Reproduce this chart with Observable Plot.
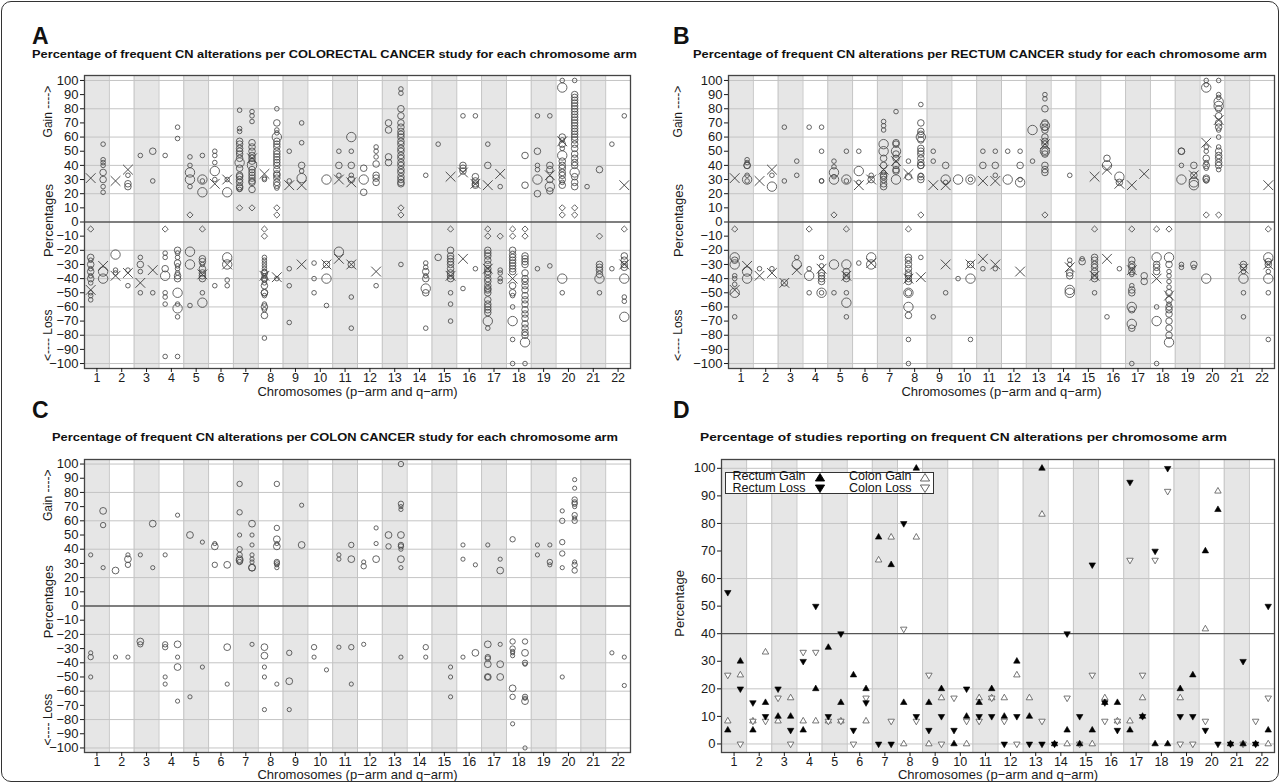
<!DOCTYPE html>
<html><head><meta charset="utf-8">
<script src="https://cdn.jsdelivr.net/npm/d3@7"></script>
<script src="https://cdn.jsdelivr.net/npm/@observablehq/plot@0.6"></script>
<style>
body{margin:0;background:#fff;}
#fig{position:relative;width:1281px;height:784px;overflow:hidden;background:#fff;font-family:Arial,"Liberation Sans",Helvetica,sans-serif;color:#111;}
#border{position:absolute;left:1px;top:1px;width:1278px;height:781px;border:1.4px solid #333;border-radius:10px;box-sizing:border-box;pointer-events:none;}
.letter{position:absolute;font-weight:bold;font-size:23px;line-height:1;}
.title{position:absolute;font-weight:bold;font-size:11.5px;line-height:1;white-space:nowrap;transform-origin:0 50%;}
.panel{position:absolute;}
#legend{position:absolute;left:725px;top:471.5px;width:209px;height:22px;border:1.1px solid #333;background:#fff;box-sizing:border-box;}
.lg{position:absolute;font-size:12.5px;line-height:1;white-space:nowrap;}
</style></head>
<body>
<div id="fig">
  <div class="letter" style="left:32px;top:25px">A</div>
  <div class="letter" style="left:673px;top:25px">B</div>
  <div class="letter" style="left:32px;top:399px">C</div>
  <div class="letter" style="left:673px;top:399px">D</div>
  <div class="title" data-w="605" style="left:32px;top:49.3px">Percentage of frequent CN alterations per COLORECTAL CANCER study for each chromosome arm</div>
  <div class="title" data-w="574" style="left:693px;top:49.3px">Percentage of frequent CN alterations per RECTUM CANCER study for each chromosome arm</div>
  <div class="title" data-w="566" style="left:52px;top:432px">Percentage of frequent CN alterations per COLON CANCER study for each chromosome arm</div>
  <div class="title" data-w="527" style="left:700px;top:432px">Percentage of studies reporting on frequent CN alterations per chromosome arm</div>
  <div class="panel" id="pA" style="left:0px;top:70px"></div>
  <div class="panel" id="pB" style="left:640px;top:70px"></div>
  <div class="panel" id="pC" style="left:0px;top:454px"></div>
  <div class="panel" id="pD" style="left:640px;top:454px"></div>
  <div id="border"></div>
</div>
<script>
// ---------- shared axis values ----------
const chromosomes = [1,2,3,4,5,6,7,8,9,10,11,12,13,14,15,16,17,18,19,20,21,22];
const pctTicks = [-100,-90,-80,-70,-60,-50,-40,-30,-20,-10,0,10,20,30,40,50,60,70,80,90,100];
const pctGrid = [-100,-80,-60,-40,-20,20,40,60,80,100];
const studyTicks = [0,10,20,30,40,50,60,70,80,90,100];
const studyGrid = [0,20,60,80,100];
const studyThreshold = [40];

// ---------- Panel A: colorectal cancer studies (arm, values...) ----------
const colorectalSmall = [
["1p",-27,-33,-38,-43,-50,-52,-55],["1q",55,44,42,40,25,21],["2p",-34,-36],["2q",33,-34,-45],
["3p",47,-25,-35,-50],["3q",29,-50],["4p",47,-22,-25,-50,-53,-58,-95],["4q",67,59,-22,-25,-31,-33,-36,-58,-67,-95],
["5p",46,40,25,-59],["5q",47,29,-30,-50],["6p",50,47,42,30,-45],["6q",30,-41,-45],["7p",79,66,64,23],["7q",78,75,71],
["8p",31,30,-25,-27,-29,-31,-33,-35,-38,-41,-43,-52,-58,-62,-82],["8q",80,65,63,24,-40],["9p",50,29,-33,-45,-71],["9q",70,56,36],
["10p",-29,-40,-50],["10q",-59],["11p",50,33],["11q",50,33,-53,-75],["12q",53,50,46,-45],["13q",94,91,-30],
["14q",33,-29,-32,-38,-75],["15p",55],["15q",-50,-58,-70],["16p",75,-47],["16q",75,-33],["17p",55,-75],["17q",25,-34,-36,-40,-42],
["18p",-52,-60,-83,-100],["18q",-100],["19p",75,40,37,-33],["19q",75,-31],["20p",100,58,52,28,-50],["20q",100],
["21p",25],["21q",-50],["22p",55,-33],["22q",75,-53,-56]
];
const colorectalMedium = [
["1p",-25,-30,-35,-40],["1q",35,30],["2q",27,25],["3p",-30],["3q",50],["4p",-33],["4q",-20,-29,-38,-40],
["5q",-26,-28,-33,-36,-38,-40],["7p",57,55,52,50,48,45,38,33,32,30,28,25,24],["7q",56,53,50,47,45,43,37,35,33,31,29,28,23],
["8p",-36,-40,-45,-50,-50,-60,-66],["8q",70,57,55,53,50,48,46,44,42,40,37,34,33,31,28,26],["9q",40],["10q",-30],
["11p",40],["11q",40,30,-30],["12p",38,21],["12q",41,33,31,28],["13p",70,65,46,42],
["13q",80,75,70,67,64,62,60,57,55,52,50,47,45,42,40,37,35,32,30,28,27],["14q",-35,-40,-50],["15p",-25],
["15q",-20,-24,-26,-28,-30,-33,-36,-38,-40],["16p",40,38,36],["16q",32,29,27,26],
["17p",40,-20,-22,-24,-27,-30,-33,-35,-37,-40,-42,-45,-47,-48,-50,-55,-58,-60,-62,-64],
["18p",-20,-23,-25,-27,-29,-31,-33,-35,-45,-50],
["18q",47,26,-24,-26,-28,-30,-36,-40,-42,-45,-48,-52,-55,-58,-62,-65,-68,-72,-75,-78,-80],
["19p",50,20],["19q",40,37,30,22],["20p",60,55,43,40,38,35,33,30,26],
["20q",90,88,86,84,82,80,78,76,74,72,70,68,66,64,62,60,58,55,52,48,45,42,40,32,28,25],
["21q",37,-30,-32,-34,-37],["22q",-24,-27,-30,-32]
];
const colorectalLarge = [
["1q",-35,-40],["2p",-23],["4p",-38],["4q",-50,-61],["5p",35,30,-21,-30],["5q",30,21,-57],["6p",36],["6q",21,-25,-30],
["7p",42],["7q",40],["8q",60],["9q",31],["10q",30,-40],["11p",-21],["11q",60],["12p",30],["14q",-47],["17p",-70],
["18p",-70],["18q",-85],["19p",30],["19q",25],["20p",95,47,-40],["20q",35],["21q",-40],["22q",-40,-67]
];
const colorectalCross = [
["1p",31,-48],["1q",-31],["2p",29,-38],["2q",37,-36],["3p",-43],["3q",-34],["5q",-37],["6p",27],["6q",30,-30],["7q",45],
["8p",34,-38],["8q",-39],["9p",26],["9q",26,-30],["10q",-30],["11p",30,-26],["11q",28,-30],["12q",-35],["15q",32,-38],
["16p",35,-26],["16q",27],["17p",26,-33],["17q",34],["18p",-40],["19q",33],["20p",57],["22q",26,-30]
];
const colorectalDiamond = [
["1p",-5],["4p",-5],["5p",5],["5q",-5],["7p",10],["7q",10],["8p",-5,-10],["8q",10,5],["13q",10,5],["15q",-5],
["17p",-5,-10],["17q",-10],["18p",-5,-10],["18q",-5,-10],["20p",10,5],["20q",10,5],["21q",-10],["22q",-5]
];

// ---------- Panel B: rectum cancer studies ----------
const rectumSmall = [
["1p",-38,-40,-44,-67],["1q",44,42,33,29],["2p",-33],["2q",33,-33],["3p",67,29],["3q",43,33,-25],["4p",67,-33,-50],
["4q",67,50,29,29,-25,-31,-50],["5p",43,39,32,-50],["5q",50,29,-50,-67],["6p",50,28,-29],["6q",33],["7p",71,68,65,35],
["7q",78],["8p",43,-83,-100],["8q",83,33,-25],["9p",50,43,-67],["9q",28,-50],["10p",-40],["10q",30,-83],["11p",50,-33],
["11q",50,33,-33],["12p",50],["12q",50,30],["13p",43],["13q",90,87],["14q",33,-27,-30],["15p",-26],["15q",-50],
["16p",-67],["16q",-33],["17p",-37,-45,-100],["18p",-60,-100],["18q",-35,-38,-42,-46,-58],["19p",40,-30,-32],["19q",-32],
["20p",100,97,53,50,42,38,29],["20q",100,90,88,65,60,53,37],["21q",-35,-50,-67],["22q",-35,-50,-83]
];
const rectumMedium = [
["1p",-27],["1q",40,40],["3p",-43],["4q",-36,-38,-40,-42],["5q",-35,-38,-40],["6q",30],["7p",45,40,33,32,30,27,25],
["7q",56,55,48,45,40,37,36],["8p",32,-25,-27,-30,-33,-36,-38,-40,-42,-50,-66],["8q",70,64,62,58,52,50,48,45,42,40,40,32,30],
["9q",40],["10q",-30],["11p",40],["11q",40],["12q",40],["13q",80,70,67,65,60,57,55,50,48,40,37,35],["14q",-36,-38],
["15p",-28],["15q",-25,-27,-30,-32,-35,-38,-40],["16p",45],["16q",28],["17p",-27,-30,-32,-35,-48,-50,-62,-75],
["17q",-38,-42],["18p",-30,-32,-35],["18q",-30,-50,-55,-60,-62,-65,-70,-75,-80],["19p",50,50],["19q",40,33,-30],
["20p",45,40,31,30],["20q",80,75,70,67,50,47,45,42,40],["21q",-30,-32],["22q",-28,-30]
];
const rectumLarge = [
["1p",-25,-30,-50],["1q",30,-35,-40],["2q",25],["3q",-30],["4p",-38],["4q",-50],["5p",35,30,-30],["5q",30,-30,-57],
["6p",36],["6q",-25,-30],["7p",55,50],["7q",50,30],["8p",-50,-60],["8q",60],["9q",30],["10p",30],["10q",30,-40],
["12p",30],["12q",28],["13p",65],["13q",68,50],["14q",-48,-50],["16p",40],["16q",32],["17p",-60,-72],["18p",-25,-70],
["18q",-25,-85],["19p",30],["19q",28,26],["20p",95,-40],["20q",85,82],["21q",-40],["22q",-25,-40]
];
const rectumCross = [
["1p",31,-48],["1q",-31],["2p",29,-38],["2q",37,-36],["3p",-43],["3q",-34],["4q",-33],["5q",-38],["6p",26],["6q",30,-29],
["7p",37],["7q",43],["8p",34,-40],["8q",-39],["9p",26],["9q",26,-30],["10q",-30],["11p",29,-26],["11q",29,-30],["12q",-35],
["13q",55],["14q",-32],["15q",32,-38],["16p",37,-26],["16q",27],["17p",26,-34],["17q",34],["18p",-40],["18q",-52],
["19q",33],["20p",56],["20q",72],["21q",-33],["22q",26,-30]
];
const rectumDiamond = [
["1p",-5],["4p",-5],["5p",5],["5q",-5],["8p",-5],["8q",5],["13q",5],["15q",-5],["17p",-5],["18p",-5],["18q",-5],
["20p",5],["20q",5],["22q",-5]
];

// ---------- Panel C: colon cancer studies ----------
const colonSmall = [
["1p",36,-33,-50],["1q",27],["2p",-36],["2q",36,-36],["3p",36],["3q",27],["4p",36,-50,-55],["4q",64,-36,-67],["5p",-64],
["5q",45,-43],["6p",44],["6q",-55],["7p",50],["7q",50,43,36,33,31,-27],["8p",-43,-50,-73],["8q",44,29,27,-55],["9p",-73],
["9q",71],["10p",-36],["10q",-45],["11p",36,33,-29],["11q",-55],["12p",31,-27],["12q",55,44],["13q",70,68,40,27,-36],
["14q",-36],["15q",-43,-50,-64],["16p",43,33,-36],["16q",29],["17p",43],["17q",33,-27],["18p",-32,-33,-35,-83],
["18q",-41,-65,-100],["19p",43,36],["19q",43,29],["20p",67,27,-50],["20q",89,83,70,62,31],["22p",-33],["22q",-36,-56]
];
const colonMedium = [
["1p",-36],["1q",57],["2q",29],["3p",-27],["4p",-27,-29],["6p",29],["7p",86,66,40,36,31],["8q",86,55,31,30],["9p",-33],
["10p",-29],["11q",43,-29],["12p",28],["13p",42],["13q",100,72,43,42],["14q",-29],["17p",-36,-37,-50],
["18p",47,-25,-30,-64],["18q",-25,-40,-64],["19q",31],["20p",60,45,37],["20q",75,73,72,64,60,29,25]
];
const colonLarge = [
["1q",67],["2p",25],["2q",33],["3p",-25],["3q",58],["4q",-27,-43],["5p",50],["6p",42],["6q",29,-29],["7p",33,32],
["7q",58,27,27],["8p",-29,-35],["8q",47,42],["9p",-53],["9q",43],["11q",33],["12q",33],["13p",50],["13q",50,33],
["16q",-33],["17p",-27,-41,-50],["17q",25,-41,-50],["18p",-58],["18q",-33,-67]
];

// ---------- Panel D: % of studies reporting per arm ----------
const arms = ["1p","1q","2p","2q","3p","3q","4p","4q","5p","5q","6p","6q","7p","7q","8p","8q","9p","9q","10p","10q","11p","11q",
"12p","12q","13p","13q","14p","14q","15p","15q","16p","16q","17p","17q","18p","18q","19p","19q","20p","20q","21p","21q","22p","22q"];
const rectumGain = [5,30,5,15,10,10,5,20,35,15,25,20,75,65,15,100,15,20,0,10,15,20,10,30,10,100,0,5,0,5,15,15,5,10,0,0,20,25,70,85,0,0,0,5];
const rectumLoss = [55,20,15,10,20,5,30,50,10,40,5,15,0,0,80,10,5,10,5,20,10,10,0,10,0,0,0,40,10,65,15,5,95,10,70,100,10,10,5,0,0,30,0,50];
const colonGain = [8.3,25,8.3,33.3,8.3,16.7,8.3,8.3,8.3,8.3,null,8.3,66.7,75,0,75,0,16.7,null,0,16.7,16.7,16.7,25,16.7,83.3,null,0,null,0,
16.7,8.3,8.3,16.7,null,null,16.7,null,41.7,91.7,null,null,null,0];
const colonLoss = [25,0,8.3,8.3,16.7,0,33.3,33.3,8.3,8.3,0,16.7,null,8.3,41.7,8.3,25,0,16.7,8.3,8.3,16.7,8.3,0,null,8.3,null,16.7,0,25,
8.3,8.3,66.7,25,66.7,91.7,0,0,8.3,null,null,0,8.3,16.7];

// ---------- helpers ----------
const FONT = "Arial, 'Liberation Sans', Helvetica, sans-serif";
const INK = "#4a4a4a";
function armX(arm){ const c = parseInt(arm, 10); return arm.endsWith("p") ? c - 0.25 : c + 0.25; }
function expand(list){ return list.flatMap(([arm, ...vals]) => vals.map(v => ({x: armX(arm), v}))); }
const triUp = {draw(ctx, size){ const y = Math.sqrt(size / (3 * Math.sqrt(3))); const s = Math.sqrt(3) * y;
  ctx.moveTo(0, -2 * y); ctx.lineTo(s, y); ctx.lineTo(-s, y); ctx.closePath(); }};
const triDown = {draw(ctx, size){ const y = Math.sqrt(size / (3 * Math.sqrt(3))); const s = Math.sqrt(3) * y;
  ctx.moveTo(0, 2 * y); ctx.lineTo(s, -y); ctx.lineTo(-s, -y); ctx.closePath(); }};

function background(yDomain, grid, strongY){
  const shade = chromosomes.filter(c => c % 2 === 1);
  const bounds = chromosomes.slice(0, -1).map(c => c + 0.5);
  return [
    Plot.rect(shade, {x1: c => c - 0.5, x2: c => c + 0.5, y1: () => yDomain[0], y2: () => yDomain[1], fill: "#e6e6e6"}),
    Plot.ruleX(bounds, {stroke: "#c4c4c4", strokeWidth: 1}),
    Plot.ruleY(grid, {stroke: "#c4c4c4", strokeWidth: 1}),
    Plot.ruleY(strongY, {stroke: "#555", strokeWidth: 1.3})
  ];
}
function axes(yTicks, xLabelDy){
  return [
    Plot.frame({stroke: "#444", strokeWidth: 1.3}),
    Plot.axisY({ticks: yTicks, tickSize: 4, tickPadding: 2, label: null, fontSize: 13}),
    Plot.axisX({ticks: chromosomes, tickSize: 4, tickPadding: 1, label: null, fontSize: 12.5}),
    Plot.text(["Chromosomes (p\u2212arm and q\u2212arm)"], {frameAnchor: "bottom", dy: xLabelDy, fontSize: 13})
  ];
}
function yLabel(text, y, dx, size){
  return Plot.text([text], {frameAnchor: "left", y: () => y, dx, rotate: -90, textAnchor: "middle", fontSize: size});
}

function scatterPanel(cfg){
  const yDomain = cfg.yDomain;
  const r = cfg.radii;
  const marks = [
    ...background(yDomain, pctGrid, [0]),
    Plot.dot(expand(cfg.small), {x: "x", y: "v", r: r[0], stroke: INK, strokeWidth: 0.85}),
    Plot.dot(expand(cfg.medium), {x: "x", y: "v", r: r[1], stroke: INK, strokeWidth: 0.85}),
    Plot.dot(expand(cfg.large), {x: "x", y: "v", r: r[2], stroke: INK, strokeWidth: 0.85})
  ];
  if (cfg.cross) marks.push(Plot.dot(expand(cfg.cross), {x: "x", y: "v", symbol: "times", r: 4.5, stroke: "#3c3c3c", strokeWidth: 0.9}));
  if (cfg.diamond) marks.push(Plot.dot(expand(cfg.diamond), {x: "x", y: "v", symbol: "diamond2", r: 2.8, stroke: "#3c3c3c", strokeWidth: 0.8}));
  marks.push(...axes(pctTicks, cfg.xLabelDy));
  marks.push(yLabel("Percentages", cfg.midY, cfg.labelDx, 13));
  marks.push(yLabel("Gain ---->", 78, cfg.labelDx, 12));
  marks.push(yLabel("<---- Loss", -80, cfg.labelDx, 12));
  return Plot.plot({
    width: cfg.width, height: 330, marginLeft: cfg.ml, marginRight: cfg.mr, marginTop: 5, marginBottom: 32,
    x: {domain: [0.5, 22.5]}, y: {domain: yDomain},
    style: {fontFamily: FONT, fontSize: "12.5px", color: "#1a1a1a", background: "transparent", overflow: "visible"},
    marks
  });
}

document.getElementById("pA").append(scatterPanel({
  width: 640, ml: 84, mr: 10, yDomain: [-103.5, 103.5], radii: [2.3, 3.3, 4.7], xLabelDy: 27.5, labelDx: -36, midY: 1,
  small: colorectalSmall, medium: colorectalMedium, large: colorectalLarge, cross: colorectalCross, diamond: colorectalDiamond
}));
document.getElementById("pB").append(scatterPanel({
  width: 641, ml: 88, mr: 7, yDomain: [-103.5, 103.5], radii: [2.3, 3.3, 4.7], xLabelDy: 27.5, labelDx: -50, midY: 1,
  small: rectumSmall, medium: rectumMedium, large: rectumLarge, cross: rectumCross, diamond: rectumDiamond
}));
document.getElementById("pC").append(scatterPanel({
  width: 640, ml: 84, mr: 10, yDomain: [-103.2, 103.2], radii: [2.1, 2.7, 3.4], xLabelDy: 26.5, labelDx: -36, midY: 3,
  small: colonSmall, medium: colonMedium, large: colonLarge
}));

// Panel D
const studyRows = arms.map((arm, i) => ({x: armX(arm), rg: rectumGain[i], rl: rectumLoss[i], cg: colonGain[i], cl: colonLoss[i]}));
const dDomain = [-3.1, 103.2];
document.getElementById("pD").append(Plot.plot({
  width: 641, height: 330, marginLeft: 81, marginRight: 7, marginTop: 5, marginBottom: 32,
  x: {domain: [0.5, 22.5]}, y: {domain: dDomain},
  style: {fontFamily: FONT, fontSize: "12.5px", color: "#1a1a1a", background: "transparent", overflow: "visible"},
  marks: [
    ...background(dDomain, studyGrid, studyThreshold),
    Plot.dot(studyRows.filter(d => d.cg != null), {x: "x", y: "cg", symbol: triUp, r: 2.4, fill: "white", stroke: "#555", strokeWidth: 0.8}),
    Plot.dot(studyRows.filter(d => d.cl != null), {x: "x", y: "cl", symbol: triDown, r: 2.4, fill: "white", stroke: "#555", strokeWidth: 0.8}),
    Plot.dot(studyRows.filter(d => d.rg != null), {x: "x", y: "rg", symbol: triUp, r: 2.4, fill: "black", stroke: "black", strokeWidth: 0.6}),
    Plot.dot(studyRows.filter(d => d.rl != null), {x: "x", y: "rl", symbol: triDown, r: 2.4, fill: "black", stroke: "black", strokeWidth: 0.6}),
    ...axes(studyTicks, 26.5),
    yLabel("Percentage", 51, -42, 13)
  ]
}));

// Legend for panel D
const legendItems = [
  {label: "Rectum Gain", col: 0, row: 0, fill: "black", up: true},
  {label: "Rectum Loss", col: 0, row: 1, fill: "black", up: false},
  {label: "Colon Gain", col: 1, row: 0, fill: "white", up: true},
  {label: "Colon Loss", col: 1, row: 1, fill: "white", up: false}
];
const leg = document.createElement("div");
leg.id = "legend";
document.getElementById("fig").append(leg);
const legSvg = d3.create("svg").attr("width", 209).attr("height", 22).style("position", "absolute").style("left", "-1px").style("top", "-1px");
for (const it of legendItems) {
  const lx = it.col === 0 ? 6.5 : 123;
  const sx = it.col === 0 ? 95 : 200;
  const top = it.row === 0 ? -2.4 : 9.3;
  const t = document.createElement("div");
  t.className = "lg"; t.textContent = it.label;
  t.style.left = lx + "px"; t.style.top = top + "px";
  leg.append(t);
  const cy = it.row === 0 ? 5.5 : 16.5;
  const pts = it.up ? [[sx, cy - 4], [sx + 4.6, cy + 3.5], [sx - 4.6, cy + 3.5]] : [[sx, cy + 4], [sx + 4.6, cy - 3.5], [sx - 4.6, cy - 3.5]];
  legSvg.append("polygon").attr("points", pts.map(p => p.join(",")).join(" "))
    .attr("fill", it.fill).attr("stroke", it.fill === "black" ? "black" : "#555").attr("stroke-width", 0.9);
}
leg.append(legSvg.node());

// Fit the panel titles to their widths in the reference
document.querySelectorAll(".title").forEach(el => {
  const w = el.getBoundingClientRect().width;
  const target = +el.dataset.w;
  el.style.transform = `scaleX(${(target / w).toFixed(4)})`;
});
</script>
</body></html>
